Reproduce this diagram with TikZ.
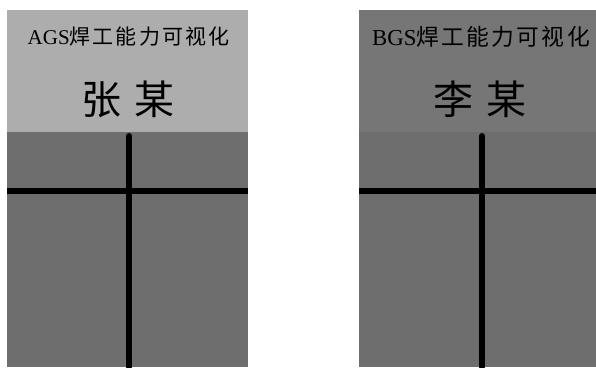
\documentclass[tikz,border=0pt]{standalone}
\usepackage{fontspec}
\setmainfont{Liberation Serif}
\newfontfamily\cjk{Noto Sans CJK SC}
\newfontfamily\cjkspaced[LetterSpace=10]{Noto Sans CJK SC}
\begin{document}
\begin{tikzpicture}[x=1pt,y=-1pt,
  hdrA/.style={fill={rgb,255:red,173;green,173;blue,173}},
  hdrB/.style={fill={rgb,255:red,118;green,118;blue,118}},
  bodyfill/.style={fill={rgb,255:red,110;green,110;blue,110}},
  gridline/.style={line width=6pt,black},
  titletext/.style={inner sep=0pt,font=\fontsize{21pt}{25pt}\selectfont},
  titletextB/.style={inner sep=0pt,font=\fontsize{22.8pt}{27pt}\selectfont},
  nametext/.style={inner sep=0pt,font=\fontsize{40pt}{46pt}\selectfont\cjk}]
\useasboundingbox (0,0) rectangle (596,367);
% left panel
\fill[hdrA] (7,10) rectangle (248,132);
\fill[bodyfill] (7,132) rectangle (248,367);
% right panel
\fill[hdrB] (359,10) rectangle (596,132);
\fill[bodyfill] (359,132) rectangle (596,367);
% texts
\node[titletext] (tA) at (128.5,37) {AGS{\cjkspaced 焊工能力可视化}};
\node[titletextB] (tB) at (481,37) {BGS{\cjkspaced 焊工能力可视化}};
\node[nametext] (nA) at (127.5,99.5) {张\hspace{13pt}某};
\node[nametext] (nB) at (479.5,99.5) {李\hspace{13pt}某};
% grid lines
\coordinate (vAt) at (129,136);
\coordinate (vAb) at (129,367);
\coordinate (hAl) at (7,190.5);
\coordinate (hAr) at (248,190.5);
\coordinate (vBt) at (482,136);
\coordinate (vBb) at (482,367);
\coordinate (hBl) at (359,190.5);
\coordinate (hBr) at (596,190.5);
\draw[gridline] (hAl) -- (hAr);
\draw[gridline] (hBl) -- (hBr);
\draw[gridline,line cap=round] (vAt) -- (vAb);
\draw[gridline,line cap=round] (vBt) -- (vBb);
\end{tikzpicture}
\end{document}
